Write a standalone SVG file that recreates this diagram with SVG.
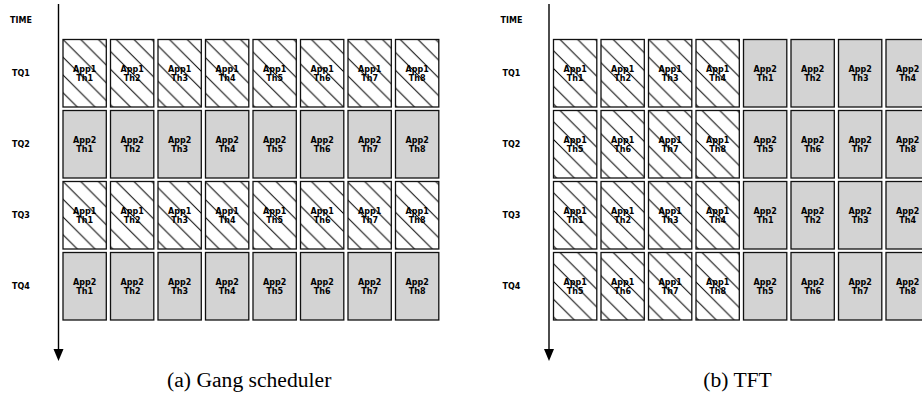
<svg xmlns="http://www.w3.org/2000/svg" width="922" height="401" viewBox="0 0 922 401">
<style>
.h{fill:url(#hatch);stroke:#111;stroke-width:1.3}
.g{fill:#d3d3d3;stroke:#111;stroke-width:1.3}
.t{font-family:"DejaVu Sans",sans-serif;font-weight:bold;font-size:8px;text-anchor:middle;fill:#000}
.l{font-family:"DejaVu Sans",sans-serif;font-weight:bold;font-size:8px;fill:#000}
.c{font-family:"Liberation Serif","Times New Roman",serif;font-size:21.6px;text-anchor:middle;fill:#000}
.ax{stroke:#000;stroke-width:1.4;fill:none}
</style>
<defs>
<pattern id="hatch" patternUnits="userSpaceOnUse" x="23.5" y="0" width="17.75" height="17.75">
<rect width="17.75" height="17.75" fill="#fff"/>
<path d="M-8.875,8.875 L8.875,26.625 M0,0 L17.75,17.75 M8.875,-8.875 L26.625,8.875" stroke="#000" stroke-width="1" fill="none"/>
</pattern>
<g id="H1"><rect class="h" width="43.3" height="67.5"/></g>
<g id="G1"><rect class="g" width="43.3" height="67.5"/></g>
</defs>
<g id="connectors">
<line class="ax" x1="58.5" y1="4" x2="58.5" y2="350"/>
<polygon points="53.5,349 63.5,349 58.5,361" fill="#000"/>
<line class="ax" x1="549" y1="4" x2="549" y2="350"/>
<polygon points="544,349 554,349 549,361" fill="#000"/>
</g>
<g id="labels">
<text class="l" x="10" y="23">TIME</text>
<text class="l" x="12" y="76.3">TQ1</text>
<text class="l" x="12" y="147.3">TQ2</text>
<text class="l" x="12" y="218.3">TQ3</text>
<text class="l" x="12" y="289.3">TQ4</text>
<text class="l" x="500.5" y="23">TIME</text>
<text class="l" x="502.5" y="76.3">TQ1</text>
<text class="l" x="502.5" y="147.3">TQ2</text>
<text class="l" x="502.5" y="218.3">TQ3</text>
<text class="l" x="502.5" y="289.3">TQ4</text>
<text class="c" x="249.2" y="387">(a) Gang scheduler</text>
<text class="c" x="737.5" y="387">(b) TFT</text>
</g>
<!-- Panel (a) -->
<g id="a-r1c1"><rect class="h" x="63" y="39.5" width="43.3" height="67.5"/><text class="t" x="84.65" y="72">App1</text><text class="t" x="84.65" y="80.5">Th1</text></g>
<g id="a-r1c2"><rect class="h" x="110.5" y="39.5" width="43.3" height="67.5"/><text class="t" x="132.15" y="72">App1</text><text class="t" x="132.15" y="80.5">Th2</text></g>
<g id="a-r1c3"><rect class="h" x="158" y="39.5" width="43.3" height="67.5"/><text class="t" x="179.65" y="72">App1</text><text class="t" x="179.65" y="80.5">Th3</text></g>
<g id="a-r1c4"><rect class="h" x="205.5" y="39.5" width="43.3" height="67.5"/><text class="t" x="227.15" y="72">App1</text><text class="t" x="227.15" y="80.5">Th4</text></g>
<g id="a-r1c5"><rect class="h" x="253" y="39.5" width="43.3" height="67.5"/><text class="t" x="274.65" y="72">App1</text><text class="t" x="274.65" y="80.5">Th5</text></g>
<g id="a-r1c6"><rect class="h" x="300.5" y="39.5" width="43.3" height="67.5"/><text class="t" x="322.15" y="72">App1</text><text class="t" x="322.15" y="80.5">Th6</text></g>
<g id="a-r1c7"><rect class="h" x="348" y="39.5" width="43.3" height="67.5"/><text class="t" x="369.65" y="72">App1</text><text class="t" x="369.65" y="80.5">Th7</text></g>
<g id="a-r1c8"><rect class="h" x="395.5" y="39.5" width="43.3" height="67.5"/><text class="t" x="417.15" y="72">App1</text><text class="t" x="417.15" y="80.5">Th8</text></g>
<g id="a-r2c1"><rect class="g" x="63" y="110.5" width="43.3" height="67.5"/><text class="t" x="84.65" y="143">App2</text><text class="t" x="84.65" y="151.5">Th1</text></g>
<g id="a-r2c2"><rect class="g" x="110.5" y="110.5" width="43.3" height="67.5"/><text class="t" x="132.15" y="143">App2</text><text class="t" x="132.15" y="151.5">Th2</text></g>
<g id="a-r2c3"><rect class="g" x="158" y="110.5" width="43.3" height="67.5"/><text class="t" x="179.65" y="143">App2</text><text class="t" x="179.65" y="151.5">Th3</text></g>
<g id="a-r2c4"><rect class="g" x="205.5" y="110.5" width="43.3" height="67.5"/><text class="t" x="227.15" y="143">App2</text><text class="t" x="227.15" y="151.5">Th4</text></g>
<g id="a-r2c5"><rect class="g" x="253" y="110.5" width="43.3" height="67.5"/><text class="t" x="274.65" y="143">App2</text><text class="t" x="274.65" y="151.5">Th5</text></g>
<g id="a-r2c6"><rect class="g" x="300.5" y="110.5" width="43.3" height="67.5"/><text class="t" x="322.15" y="143">App2</text><text class="t" x="322.15" y="151.5">Th6</text></g>
<g id="a-r2c7"><rect class="g" x="348" y="110.5" width="43.3" height="67.5"/><text class="t" x="369.65" y="143">App2</text><text class="t" x="369.65" y="151.5">Th7</text></g>
<g id="a-r2c8"><rect class="g" x="395.5" y="110.5" width="43.3" height="67.5"/><text class="t" x="417.15" y="143">App2</text><text class="t" x="417.15" y="151.5">Th8</text></g>
<g id="a-r3c1"><rect class="h" x="63" y="181.5" width="43.3" height="67.5"/><text class="t" x="84.65" y="214">App1</text><text class="t" x="84.65" y="222.5">Th1</text></g>
<g id="a-r3c2"><rect class="h" x="110.5" y="181.5" width="43.3" height="67.5"/><text class="t" x="132.15" y="214">App1</text><text class="t" x="132.15" y="222.5">Th2</text></g>
<g id="a-r3c3"><rect class="h" x="158" y="181.5" width="43.3" height="67.5"/><text class="t" x="179.65" y="214">App1</text><text class="t" x="179.65" y="222.5">Th3</text></g>
<g id="a-r3c4"><rect class="h" x="205.5" y="181.5" width="43.3" height="67.5"/><text class="t" x="227.15" y="214">App1</text><text class="t" x="227.15" y="222.5">Th4</text></g>
<g id="a-r3c5"><rect class="h" x="253" y="181.5" width="43.3" height="67.5"/><text class="t" x="274.65" y="214">App1</text><text class="t" x="274.65" y="222.5">Th5</text></g>
<g id="a-r3c6"><rect class="h" x="300.5" y="181.5" width="43.3" height="67.5"/><text class="t" x="322.15" y="214">App1</text><text class="t" x="322.15" y="222.5">Th6</text></g>
<g id="a-r3c7"><rect class="h" x="348" y="181.5" width="43.3" height="67.5"/><text class="t" x="369.65" y="214">App1</text><text class="t" x="369.65" y="222.5">Th7</text></g>
<g id="a-r3c8"><rect class="h" x="395.5" y="181.5" width="43.3" height="67.5"/><text class="t" x="417.15" y="214">App1</text><text class="t" x="417.15" y="222.5">Th8</text></g>
<g id="a-r4c1"><rect class="g" x="63" y="252.5" width="43.3" height="67.5"/><text class="t" x="84.65" y="285">App2</text><text class="t" x="84.65" y="293.5">Th1</text></g>
<g id="a-r4c2"><rect class="g" x="110.5" y="252.5" width="43.3" height="67.5"/><text class="t" x="132.15" y="285">App2</text><text class="t" x="132.15" y="293.5">Th2</text></g>
<g id="a-r4c3"><rect class="g" x="158" y="252.5" width="43.3" height="67.5"/><text class="t" x="179.65" y="285">App2</text><text class="t" x="179.65" y="293.5">Th3</text></g>
<g id="a-r4c4"><rect class="g" x="205.5" y="252.5" width="43.3" height="67.5"/><text class="t" x="227.15" y="285">App2</text><text class="t" x="227.15" y="293.5">Th4</text></g>
<g id="a-r4c5"><rect class="g" x="253" y="252.5" width="43.3" height="67.5"/><text class="t" x="274.65" y="285">App2</text><text class="t" x="274.65" y="293.5">Th5</text></g>
<g id="a-r4c6"><rect class="g" x="300.5" y="252.5" width="43.3" height="67.5"/><text class="t" x="322.15" y="285">App2</text><text class="t" x="322.15" y="293.5">Th6</text></g>
<g id="a-r4c7"><rect class="g" x="348" y="252.5" width="43.3" height="67.5"/><text class="t" x="369.65" y="285">App2</text><text class="t" x="369.65" y="293.5">Th7</text></g>
<g id="a-r4c8"><rect class="g" x="395.5" y="252.5" width="43.3" height="67.5"/><text class="t" x="417.15" y="285">App2</text><text class="t" x="417.15" y="293.5">Th8</text></g>
<!-- Panel (b) -->
<g id="b-r1c1"><rect class="h" x="553.5" y="39.5" width="43.3" height="67.5"/><text class="t" x="575.15" y="72">App1</text><text class="t" x="575.15" y="80.5">Th1</text></g>
<g id="b-r1c2"><rect class="h" x="601" y="39.5" width="43.3" height="67.5"/><text class="t" x="622.65" y="72">App1</text><text class="t" x="622.65" y="80.5">Th2</text></g>
<g id="b-r1c3"><rect class="h" x="648.5" y="39.5" width="43.3" height="67.5"/><text class="t" x="670.15" y="72">App1</text><text class="t" x="670.15" y="80.5">Th3</text></g>
<g id="b-r1c4"><rect class="h" x="696" y="39.5" width="43.3" height="67.5"/><text class="t" x="717.65" y="72">App1</text><text class="t" x="717.65" y="80.5">Th4</text></g>
<g id="b-r1c5"><rect class="g" x="743.5" y="39.5" width="43.3" height="67.5"/><text class="t" x="765.15" y="72">App2</text><text class="t" x="765.15" y="80.5">Th1</text></g>
<g id="b-r1c6"><rect class="g" x="791" y="39.5" width="43.3" height="67.5"/><text class="t" x="812.65" y="72">App2</text><text class="t" x="812.65" y="80.5">Th2</text></g>
<g id="b-r1c7"><rect class="g" x="838.5" y="39.5" width="43.3" height="67.5"/><text class="t" x="860.15" y="72">App2</text><text class="t" x="860.15" y="80.5">Th3</text></g>
<g id="b-r1c8"><rect class="g" x="886" y="39.5" width="43.3" height="67.5"/><text class="t" x="907.65" y="72">App2</text><text class="t" x="907.65" y="80.5">Th4</text></g>
<g id="b-r2c1"><rect class="h" x="553.5" y="110.5" width="43.3" height="67.5"/><text class="t" x="575.15" y="143">App1</text><text class="t" x="575.15" y="151.5">Th5</text></g>
<g id="b-r2c2"><rect class="h" x="601" y="110.5" width="43.3" height="67.5"/><text class="t" x="622.65" y="143">App1</text><text class="t" x="622.65" y="151.5">Th6</text></g>
<g id="b-r2c3"><rect class="h" x="648.5" y="110.5" width="43.3" height="67.5"/><text class="t" x="670.15" y="143">App1</text><text class="t" x="670.15" y="151.5">Th7</text></g>
<g id="b-r2c4"><rect class="h" x="696" y="110.5" width="43.3" height="67.5"/><text class="t" x="717.65" y="143">App1</text><text class="t" x="717.65" y="151.5">Th8</text></g>
<g id="b-r2c5"><rect class="g" x="743.5" y="110.5" width="43.3" height="67.5"/><text class="t" x="765.15" y="143">App2</text><text class="t" x="765.15" y="151.5">Th5</text></g>
<g id="b-r2c6"><rect class="g" x="791" y="110.5" width="43.3" height="67.5"/><text class="t" x="812.65" y="143">App2</text><text class="t" x="812.65" y="151.5">Th6</text></g>
<g id="b-r2c7"><rect class="g" x="838.5" y="110.5" width="43.3" height="67.5"/><text class="t" x="860.15" y="143">App2</text><text class="t" x="860.15" y="151.5">Th7</text></g>
<g id="b-r2c8"><rect class="g" x="886" y="110.5" width="43.3" height="67.5"/><text class="t" x="907.65" y="143">App2</text><text class="t" x="907.65" y="151.5">Th8</text></g>
<g id="b-r3c1"><rect class="h" x="553.5" y="181.5" width="43.3" height="67.5"/><text class="t" x="575.15" y="214">App1</text><text class="t" x="575.15" y="222.5">Th1</text></g>
<g id="b-r3c2"><rect class="h" x="601" y="181.5" width="43.3" height="67.5"/><text class="t" x="622.65" y="214">App1</text><text class="t" x="622.65" y="222.5">Th2</text></g>
<g id="b-r3c3"><rect class="h" x="648.5" y="181.5" width="43.3" height="67.5"/><text class="t" x="670.15" y="214">App1</text><text class="t" x="670.15" y="222.5">Th3</text></g>
<g id="b-r3c4"><rect class="h" x="696" y="181.5" width="43.3" height="67.5"/><text class="t" x="717.65" y="214">App1</text><text class="t" x="717.65" y="222.5">Th4</text></g>
<g id="b-r3c5"><rect class="g" x="743.5" y="181.5" width="43.3" height="67.5"/><text class="t" x="765.15" y="214">App2</text><text class="t" x="765.15" y="222.5">Th1</text></g>
<g id="b-r3c6"><rect class="g" x="791" y="181.5" width="43.3" height="67.5"/><text class="t" x="812.65" y="214">App2</text><text class="t" x="812.65" y="222.5">Th2</text></g>
<g id="b-r3c7"><rect class="g" x="838.5" y="181.5" width="43.3" height="67.5"/><text class="t" x="860.15" y="214">App2</text><text class="t" x="860.15" y="222.5">Th3</text></g>
<g id="b-r3c8"><rect class="g" x="886" y="181.5" width="43.3" height="67.5"/><text class="t" x="907.65" y="214">App2</text><text class="t" x="907.65" y="222.5">Th4</text></g>
<g id="b-r4c1"><rect class="h" x="553.5" y="252.5" width="43.3" height="67.5"/><text class="t" x="575.15" y="285">App1</text><text class="t" x="575.15" y="293.5">Th5</text></g>
<g id="b-r4c2"><rect class="h" x="601" y="252.5" width="43.3" height="67.5"/><text class="t" x="622.65" y="285">App1</text><text class="t" x="622.65" y="293.5">Th6</text></g>
<g id="b-r4c3"><rect class="h" x="648.5" y="252.5" width="43.3" height="67.5"/><text class="t" x="670.15" y="285">App1</text><text class="t" x="670.15" y="293.5">Th7</text></g>
<g id="b-r4c4"><rect class="h" x="696" y="252.5" width="43.3" height="67.5"/><text class="t" x="717.65" y="285">App1</text><text class="t" x="717.65" y="293.5">Th8</text></g>
<g id="b-r4c5"><rect class="g" x="743.5" y="252.5" width="43.3" height="67.5"/><text class="t" x="765.15" y="285">App2</text><text class="t" x="765.15" y="293.5">Th5</text></g>
<g id="b-r4c6"><rect class="g" x="791" y="252.5" width="43.3" height="67.5"/><text class="t" x="812.65" y="285">App2</text><text class="t" x="812.65" y="293.5">Th6</text></g>
<g id="b-r4c7"><rect class="g" x="838.5" y="252.5" width="43.3" height="67.5"/><text class="t" x="860.15" y="285">App2</text><text class="t" x="860.15" y="293.5">Th7</text></g>
<g id="b-r4c8"><rect class="g" x="886" y="252.5" width="43.3" height="67.5"/><text class="t" x="907.65" y="285">App2</text><text class="t" x="907.65" y="293.5">Th8</text></g>
</svg>
